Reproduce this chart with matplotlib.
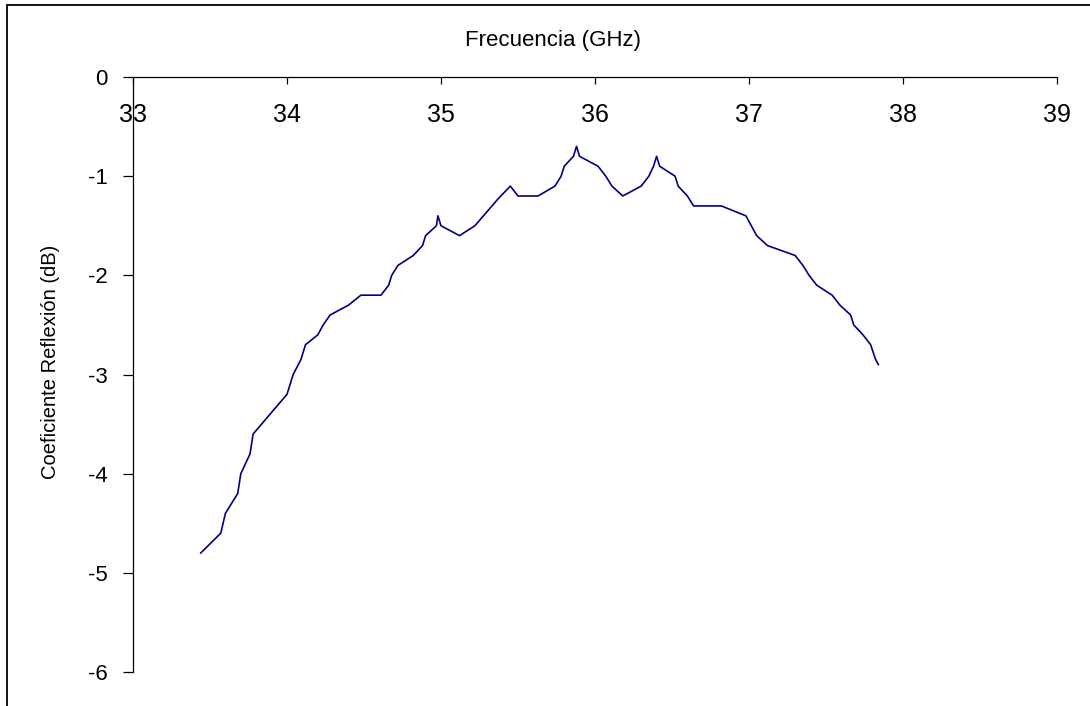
import matplotlib
matplotlib.use("Agg")
import matplotlib.pyplot as plt
from matplotlib.patches import Rectangle

plt.rcParams["font.family"] = ["Liberation Sans", "DejaVu Sans"]

# medido: coeficiente de reflexion vs frecuencia
freq_ghz = [33.44, 33.57, 33.60, 33.68, 33.70, 33.76, 33.78, 34.00, 34.04, 34.09,
            34.12, 34.20, 34.235, 34.28, 34.40, 34.48, 34.61, 34.66, 34.68, 34.72,
            34.82, 34.88, 34.90, 34.97, 34.98, 35.00, 35.12, 35.22, 35.37, 35.45,
            35.50, 35.63, 35.74, 35.78, 35.80, 35.86, 35.88, 35.90, 36.02, 36.07,
            36.11, 36.18, 36.30, 36.35, 36.38, 36.40, 36.42, 36.52, 36.54, 36.60,
            36.64, 36.82, 36.98, 37.05, 37.12, 37.30, 37.35, 37.39, 37.44, 37.54,
            37.59, 37.66, 37.68, 37.74, 37.79, 37.82, 37.84]
refl_db = [-4.8, -4.6, -4.4, -4.2, -4.0, -3.8, -3.6, -3.2, -3.0, -2.85,
           -2.7, -2.6, -2.5, -2.4, -2.3, -2.2, -2.2, -2.1, -2.0, -1.9,
           -1.8, -1.7, -1.6, -1.5, -1.4, -1.5, -1.6, -1.5, -1.23, -1.1,
           -1.2, -1.2, -1.1, -1.0, -0.9, -0.8, -0.7, -0.8, -0.9, -1.0,
           -1.1, -1.2, -1.1, -1.0, -0.9, -0.8, -0.9, -1.0, -1.1, -1.2,
           -1.3, -1.3, -1.4, -1.6, -1.7, -1.8, -1.9, -2.0, -2.1, -2.2,
           -2.3, -2.4, -2.5, -2.6, -2.7, -2.84, -2.9]

x_ticks = [33, 34, 35, 36, 37, 38, 39]
y_ticks = [0, -1, -2, -3, -4, -5, -6]

fig = plt.figure(figsize=(10.9, 7.06), dpi=100)
ax = fig.add_axes([133 / 1090, 1 - 672 / 706, 924 / 1090, 595 / 706])

ax.plot(freq_ghz, refl_db, color="#000080", lw=1.2)

ax.set_xlim(33, 39)
ax.set_ylim(-6, 0)
ax.set_xticks(x_ticks)
ax.set_yticks(y_ticks)
ax.set_xticklabels([str(t) for t in x_ticks])
ax.set_yticklabels([str(t) for t in y_ticks])

# eje x cruza en 0 (arriba), ticks hacia abajo
ax.spines["bottom"].set_position(("data", 0))
ax.spines["top"].set_visible(False)
ax.spines["right"].set_visible(False)
for s in ("bottom", "left"):
    ax.spines[s].set_linewidth(0.9)

ax.tick_params(axis="x", direction="out", length=5, width=0.9, pad=14, labelsize=18)
ax.tick_params(axis="y", direction="out", length=7, width=0.9, pad=11, labelsize=16)

ax.text(0.4545, 1.061, "Frecuencia (GHz)", transform=ax.transAxes,
        ha="center", va="center", fontsize=16)
ax.text(-0.0898, 0.521, "Coeficiente Reflexión (dB)", transform=ax.transAxes,
        ha="center", va="center", rotation=90, fontsize=14.5)

# marco exterior del grafico
fig.add_artist(Rectangle((7 / 1090, -0.05), 1.1, 1.05 - 5 / 706,
                         transform=fig.transFigure, fill=False,
                         lw=1.3, ec="black"))

fig.savefig("out.png", dpi=100)
